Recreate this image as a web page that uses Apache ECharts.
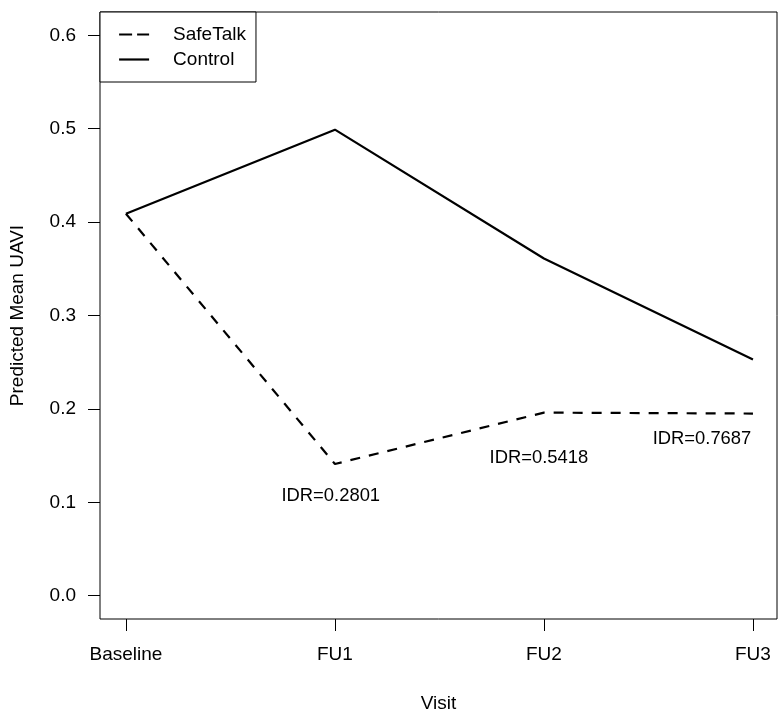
<!DOCTYPE html>
<html>
<head>
<meta charset="utf-8">
<script src="https://cdn.jsdelivr.net/npm/echarts@6/dist/echarts.min.js"></script>
<style>
html,body{margin:0;padding:0;background:#fff;}
#chart{width:780px;height:717px;}
</style>
</head>
<body>
<div id="chart"></div>
<script>
var visits = ['Baseline', 'FU1', 'FU2', 'FU3'];
var visitPos = [1, 2, 3, 4];
var safeTalk = [0.409, 0.141, 0.196, 0.195];
var control = [0.409, 0.499, 0.361, 0.253];
var yTicks = [0, 0.1, 0.2, 0.3, 0.4, 0.5, 0.6];
var idrText = ['IDR=0.2801', 'IDR=0.5418', 'IDR=0.7687'];
var idrX = [1.98, 2.976, 3.756];
var idrY = [0.107, 0.148, 0.168];

var FONT = 'Liberation Sans, Arial, sans-serif';
var FS = 19;

function pairs(xs, ys) { return xs.map(function (x, i) { return [x, ys[i]]; }); }

var chart = echarts.init(document.getElementById('chart'), null, {renderer: 'canvas'});
chart.setOption({
  backgroundColor: '#ffffff',
  animation: false,
  textStyle: {fontFamily: FONT, color: '#000'},
  grid: {left: 100, right: 3, top: 12, bottom: 98, show: true, borderColor: '#000', borderWidth: 1,
    backgroundColor: 'transparent', containLabel: false, outerBoundsMode: 'none'},
  legend: {
    data: [
      {name: 'SafeTalk', lineStyle: {type: [13, 5], width: 2.2, color: '#000'}},
      {name: 'Control', lineStyle: {type: 'solid', width: 2.2, color: '#000'}}
    ],
    orient: 'vertical',
    left: 100, top: 12,
    borderColor: '#000', borderWidth: 1, borderRadius: 0,
    backgroundColor: '#fff',
    padding: [13, 10, 13, 18],
    itemWidth: 30, itemHeight: 14, itemGap: 6,
    itemStyle: {color: 'transparent', borderColor: 'transparent', borderWidth: 0, opacity: 0},
    textStyle: {fontFamily: FONT, fontSize: FS, color: '#000', padding: [0, 0, 0, 19]}
  },
  xAxis: {
    type: 'value', min: 0.876, max: 4.115,
    name: 'Visit', nameLocation: 'middle', nameGap: 75,
    nameTextStyle: {fontFamily: FONT, fontSize: FS, color: '#000'},
    axisLine: {show: false, onZero: false},
    splitLine: {show: false},
    axisTick: {show: true, length: 12, lineStyle: {color: '#000'}, customValues: visitPos},
    axisLabel: {show: true, margin: 26, fontFamily: FONT, fontSize: FS, color: '#000', customValues: visitPos,
      formatter: function (v) { var i = visitPos.indexOf(Math.round(v)); return i >= 0 ? visits[i] : ''; }}
  },
  yAxis: {
    type: 'value', min: -0.025, max: 0.625,
    name: 'Predicted Mean UAVI', nameLocation: 'middle', nameGap: 73,
    nameTextStyle: {fontFamily: FONT, fontSize: FS, color: '#000'},
    axisLine: {show: false, onZero: false},
    splitLine: {show: false},
    axisTick: {show: true, length: 12, lineStyle: {color: '#000'}, customValues: yTicks},
    axisLabel: {show: true, margin: 24, fontFamily: FONT, fontSize: FS, color: '#000', customValues: yTicks,
      formatter: function (v) { return v.toFixed(1); }}
  },
  series: [
    {
      name: 'SafeTalk', type: 'line', data: pairs(visitPos, safeTalk),
      symbol: 'none', color: '#000',
      lineStyle: {color: '#000', width: 2.2, type: [10, 9]}
    },
    {
      name: 'Control', type: 'line', data: pairs(visitPos, control),
      symbol: 'none', color: '#000',
      lineStyle: {color: '#000', width: 2.2, type: 'solid'}
    },
    {
      name: 'IDR', type: 'scatter', symbolSize: 0,
      itemStyle: {opacity: 1},
      data: idrText.map(function (t, i) { return {name: t, value: [idrX[i], idrY[i]]}; }),
      label: {show: true, position: 'inside', formatter: '{b}', fontFamily: FONT, fontSize: 18.4,
        color: '#000', opacity: 1, textBorderWidth: 0},
      silent: true
    }
  ]
});
</script>
</body>
</html>
